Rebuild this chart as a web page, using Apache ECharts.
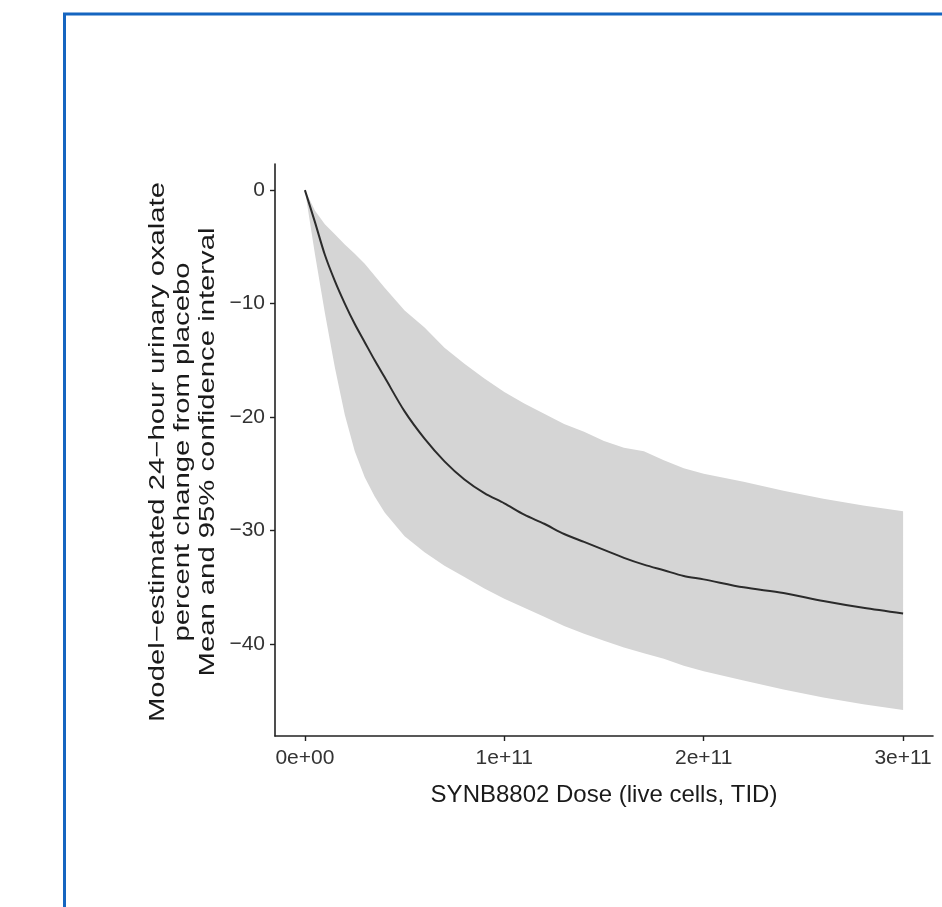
<!DOCTYPE html>
<html>
<head>
<meta charset="utf-8">
<script src="https://cdn.jsdelivr.net/npm/echarts@6/dist/echarts.min.js"></script>
<style>
html,body{margin:0;padding:0;background:#fff;}
#chart{width:942px;height:907px;}
</style>
</head>
<body>
<div id="chart"></div>
<script>
// ---- data ----
var dose = [0, 5e9, 1e10, 1.5e10, 2e10, 2.5e10, 3e10, 3.5e10, 4e10, 5e10, 6e10, 7e10, 8e10, 9e10,
  1e11, 1.1e11, 1.2e11, 1.3e11, 1.4e11, 1.5e11, 1.6e11, 1.7e11, 1.8e11, 1.9e11,
  2e11, 2.2e11, 2.4e11, 2.6e11, 2.8e11, 3e11];
var meanPct = [0, -2.8, -5.7, -8.0, -10.0, -11.8, -13.4, -15.0, -16.5, -19.5, -21.9, -23.9, -25.5, -26.7,
  -27.6, -28.6, -29.4, -30.3, -31.0, -31.7, -32.4, -33.0, -33.5, -34.0,
  -34.3, -35.0, -35.5, -36.2, -36.8, -37.3];
var upperPct = [0, -1.8, -3.0, -3.9, -4.8, -5.6, -6.5, -7.55, -8.6, -10.6, -12.1, -13.9, -15.3, -16.6,
  -17.8, -18.8, -19.7, -20.6, -21.3, -22.1, -22.7, -23.0, -23.8, -24.5,
  -25.0, -25.7, -26.5, -27.2, -27.8, -28.3];
var lowerPct = [0, -5.6, -10.8, -15.6, -19.8, -23.0, -25.3, -27.0, -28.4, -30.5, -31.9, -33.1, -34.1, -35.1,
  -36.0, -36.8, -37.6, -38.4, -39.1, -39.7, -40.3, -40.8, -41.3, -41.9,
  -42.4, -43.2, -44.0, -44.7, -45.3, -45.8];
var xTickValues = [0, 1e11, 2e11, 3e11];
var xTickLabels = ['0e+00', '1e+11', '2e+11', '3e+11'];
var yTickValues = [0, -10, -20, -30, -40];
var yTickLabels = ['0', '\u221210', '\u221220', '\u221230', '\u221240'];
var xTitle = 'SYNB8802 Dose (live cells, TID)';
var yTitleLines = ['Model\u2212estimated 24\u2212hour urinary oxalate', 'percent change from placebo', 'Mean and 95% confidence interval'];

// ---- build series data ----
function pairs(xs, ys) { return xs.map(function (x, i) { return [x, ys[i]]; }); }
var bandData = dose.map(function (d, i) { return [d, upperPct[i], lowerPct[i]]; });

function lookup(vals, labels) {
  return function (v) {
    for (var i = 0; i < vals.length; i++) { if (Math.abs(vals[i] - v) < 1e-6 * Math.max(1, Math.abs(v))) return labels[i]; }
    return '';
  };
}

var chart = echarts.init(document.getElementById('chart'), null, {renderer: 'canvas'});
var font = 'Liberation Sans, Arial, Helvetica, sans-serif';

function renderBand(params, api) {
  if (params.dataIndex !== 0) return null;
  var top = [], bottom = [];
  for (var i = 0; i < bandData.length; i++) {
    top.push(api.coord([bandData[i][0], bandData[i][1]]));
    bottom.push(api.coord([bandData[i][0], bandData[i][2]]));
  }
  var pts = top.concat(bottom.reverse());
  return {
    type: 'polygon',
    shape: {points: pts},
    style: {fill: '#d5d5d5', stroke: null},
    silent: true
  };
}

chart.setOption({
  animation: false,
  backgroundColor: '#ffffff',
  grid: {left: 275, right: 9, top: 164, bottom: 171, containLabel: false},
  xAxis: {
    type: 'value',
    min: -1.5e10,
    max: 3.15e11,
    name: xTitle,
    nameLocation: 'middle',
    nameGap: 47,
    nameTextStyle: {fontFamily: font, fontSize: 24, color: '#1a1a1a'},
    axisLine: {show: true, onZero: false, lineStyle: {color: '#222', width: 1.6}},
    axisTick: {show: true, length: 5, customValues: xTickValues, lineStyle: {color: '#222', width: 1.4}},
    axisLabel: {show: true, customValues: xTickValues, margin: 12, fontFamily: font, fontSize: 21, color: '#333333',
      formatter: lookup(xTickValues, xTickLabels)},
    splitLine: {show: false}
  },
  yAxis: {
    type: 'value',
    min: -48.1,
    max: 2.3,
    axisLine: {show: true, onZero: false, lineStyle: {color: '#222', width: 1.6}},
    axisTick: {show: true, length: 5, customValues: yTickValues, lineStyle: {color: '#222', width: 1.4}},
    axisLabel: {show: true, customValues: yTickValues, margin: 10, fontFamily: font, fontSize: 21, color: '#333333',
      formatter: lookup(yTickValues, yTickLabels)},
    splitLine: {show: false}
  },
  graphic: [
    {
      type: 'rect', silent: true, z: 100,
      shape: {x: 64.5, y: 14, width: 1000, height: 1000},
      style: {fill: 'none', stroke: '#1565c0', lineWidth: 3}
    },
    {
      type: 'text', silent: true,
      x: 183, y: 452,
      rotation: Math.PI / 2,
      scaleX: 1.33, scaleY: 1,
      style: {
        text: yTitleLines.join('\n'),
        fontFamily: font, fontSize: 22, lineHeight: 25,
        fill: '#1a1a1a', align: 'center', verticalAlign: 'middle'
      }
    }
  ],
  series: [
    {
      name: '95% CI', type: 'custom', data: bandData,
      encode: {x: 0, y: [1, 2]},
      renderItem: renderBand, silent: true, z: 1, clip: true
    },
    {
      name: 'mean', type: 'line', data: pairs(dose, meanPct),
      symbol: 'none', smooth: 0.3,
      lineStyle: {color: '#2b2b2b', width: 2}, z: 3
    }
  ]
});
</script>
</body>
</html>
